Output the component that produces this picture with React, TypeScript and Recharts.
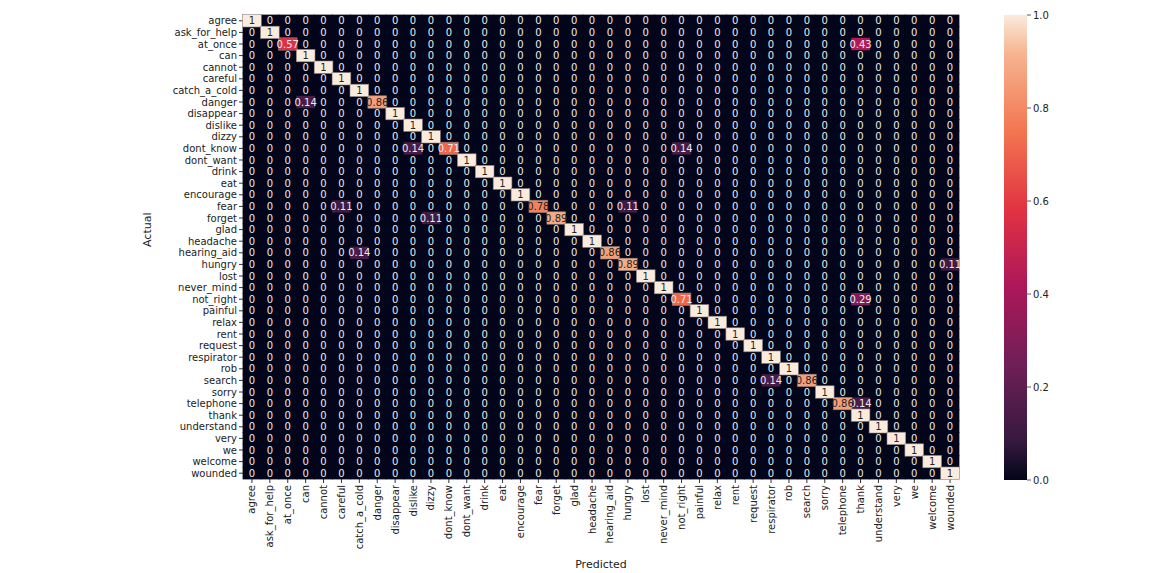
import React from 'react'
import { ScatterChart, Scatter, XAxis, YAxis, Label } from 'recharts'

document.body.style.margin = '0'

const CATEGORIES = [
  'agree', 'ask_for_help', 'at_once', 'can', 'cannot', 'careful', 'catch_a_cold', 'danger',
  'disappear', 'dislike', 'dizzy', 'dont_know', 'dont_want', 'drink', 'eat', 'encourage',
  'fear', 'forget', 'glad', 'headache', 'hearing_aid', 'hungry', 'lost', 'never_mind',
  'not_right', 'painful', 'relax', 'rent', 'request', 'respirator', 'rob', 'search',
  'sorry', 'telephone', 'thank', 'understand', 'very', 'we', 'welcome', 'wounded',
]

// share of each class predicted correctly (diagonal)
const DIAGONAL = [
  1, 1, 0.57, 1, 1, 1, 1, 0.86,
  1, 1, 1, 0.71, 1, 1, 1, 1,
  0.78, 0.89, 1, 1, 0.86, 0.89, 1, 1,
  0.71, 1, 1, 1, 1, 1, 1, 0.86,
  1, 0.86, 1, 1, 1, 1, 1, 1,
]

// [actual, predicted, share]
const MISSES: [string, string, number][] = [
  ['at_once', 'thank', 0.43],
  ['danger', 'can', 0.14],
  ['dont_know', 'dislike', 0.14],
  ['dont_know', 'not_right', 0.14],
  ['fear', 'careful', 0.11],
  ['fear', 'hungry', 0.11],
  ['forget', 'dizzy', 0.11],
  ['hearing_aid', 'catch_a_cold', 0.14],
  ['hungry', 'wounded', 0.11],
  ['not_right', 'thank', 0.29],
  ['search', 'respirator', 0.14],
  ['telephone', 'thank', 0.14],
]

const CB_TICKS = [0, 0.2, 0.4, 0.6, 0.8, 1.0]

const N = CATEGORIES.length
const PLOT = { left: 243, top: 15, right: 959, bottom: 479 }
const CELL_W = (PLOT.right - PLOT.left) / N
const CELL_H = (PLOT.bottom - PLOT.top) / N

// seaborn "rocket"
const ROCKET: [number, string][] = [
  [0, '#03051a'], [0.083, '#35193e'], [0.25, '#701f57'], [0.417, '#ad1759'],
  [0.583, '#e13342'], [0.75, '#f37651'], [0.917, '#f6b48f'], [1, '#faebdd'],
]

function hex(c: string) {
  return [1, 3, 5].map((i) => parseInt(c.slice(i, i + 2), 16))
}

function rocket(v: number) {
  for (let i = 1; i < ROCKET.length; i++) {
    const [p1, c1] = ROCKET[i]
    if (v <= p1) {
      const [p0, c0] = ROCKET[i - 1]
      const t = (v - p0) / (p1 - p0)
      const a = hex(c0), b = hex(c1)
      const m = a.map((x, k) => Math.round(x + (b[k] - x) * t))
      return `rgb(${m[0]},${m[1]},${m[2]})`
    }
  }
  return ROCKET[ROCKET.length - 1][1]
}

const cells: { x: number; y: number; v: number }[] = []
CATEGORIES.forEach((_, r) => {
  CATEGORIES.forEach((__, c) => {
    let v = r === c ? DIAGONAL[r] : 0
    MISSES.forEach(([a, p, s]) => {
      if (CATEGORIES.indexOf(a) === r && CATEGORIES.indexOf(p) === c) v = s
    })
    cells.push({ x: c + 0.5, y: r + 0.5, v })
  })
})
// draw the bright cells last so their outline sits on top
cells.sort((a, b) => a.v - b.v)

const TICKS = CATEGORIES.map((_, i) => i + 0.5)
const fmt = (t: number) => CATEGORIES[Math.floor(t)] ?? ''

const CellShape = (props: any) => {
  const { cx, cy, payload } = props
  const v = payload.v as number
  const label = v === 0 ? '0' : v === 1 ? '1' : v.toFixed(2)
  return (
    <g>
      <rect
        x={cx - CELL_W / 2 - 0.4}
        y={cy - CELL_H / 2 - 0.4}
        width={CELL_W + 0.8}
        height={CELL_H + 0.8}
        fill={rocket(v)}
        stroke={v > 0.5 ? '#8a827e' : 'none'}
        strokeWidth={0.6}
      />
      <text
        x={cx}
        y={cy}
        dy="0.36em"
        textAnchor="middle"
        fontSize={10}
        fontFamily="DejaVu Sans"
        fill={v >= 0.75 ? '#262626' : '#ececec'}
      >
        {label}
      </text>
    </g>
  )
}

const XTick = (props: any) => {
  const { x, y, payload } = props
  return (
    <g transform={`translate(${x},${y})`}>
      <text transform="rotate(-90)" x={0} y={0} dy="0.35em" textAnchor="end" fontSize={10} fontFamily="DejaVu Sans" fill="#222">
        {fmt(payload.value)}
      </text>
    </g>
  )
}

function ColorBar() {
  const x = 1004, y = 15, w = 23, h = 465
  return (
    <svg width={1163} height={573} style={{ position: 'absolute', left: 0, top: 0, pointerEvents: 'none' }}>
      <defs>
        <linearGradient id="rocket" x1="0" y1="1" x2="0" y2="0">
          {ROCKET.map(([p, c]) => (
            <stop key={p} offset={p} stopColor={c} />
          ))}
        </linearGradient>
      </defs>
      <rect x={x} y={y} width={w} height={h} fill="url(#rocket)" />
      {CB_TICKS.map((t) => {
        const ty = y + h - t * h
        return (
          <g key={t}>
            <line x1={x + w} x2={x + w + 4} y1={ty} y2={ty} stroke="#333" strokeWidth={0.8} />
            <text x={x + w + 6} y={ty} dy="0.35em" fontSize={10} fontFamily="DejaVu Sans" fill="#222">
              {t.toFixed(1)}
            </text>
          </g>
        )
      })}
    </svg>
  )
}

export default function App() {
  return (
    <div style={{ position: 'relative', width: 1163, height: 573, background: '#fff' }}>
      <ScatterChart
        width={1163}
        height={573}
        margin={{ left: PLOT.left - 105, top: PLOT.top, right: 1163 - PLOT.right, bottom: 4 }}
      >
        <XAxis
          type="number"
          dataKey="x"
          domain={[0, N]}
          ticks={TICKS}
          interval={0}
          height={573 - 4 - PLOT.bottom}
          axisLine={false}
          tickSize={4}
          tickMargin={2}
          tickLine={{ stroke: '#333' }}
          tick={<XTick />}
        >
          <Label value="Predicted" position="insideBottom" offset={1} fontSize={11} fontFamily="DejaVu Sans" fill="#222" />
        </XAxis>
        <YAxis
          type="number"
          dataKey="y"
          domain={[0, N]}
          reversed
          ticks={TICKS}
          interval={0}
          width={105}
          axisLine={false}
          tickSize={4}
          tickMargin={2}
          tickLine={{ stroke: '#333' }}
          tickFormatter={fmt}
          tick={{ fontSize: 10, fontFamily: 'DejaVu Sans', fill: '#222' }}
        >
          <Label value="Actual" angle={-90} position="insideLeft" offset={9} fontSize={11} fontFamily="DejaVu Sans" fill="#222" />
        </YAxis>
        <Scatter data={cells} shape={<CellShape />} isAnimationActive={false} />
      </ScatterChart>
      <ColorBar />
    </div>
  )
}
